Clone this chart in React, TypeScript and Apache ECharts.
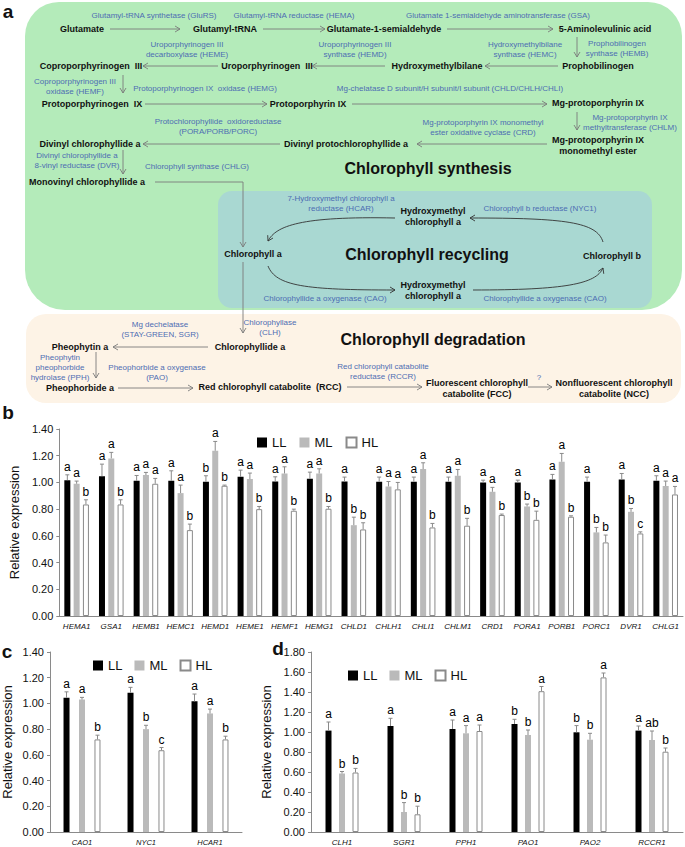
import React, { useEffect, useRef } from 'react';
import * as echarts from 'echarts';

// ---------- Panel b data ----------
const genesB = ['HEMA1', 'GSA1', 'HEMB1', 'HEMC1', 'HEMD1', 'HEME1', 'HEMF1', 'HEMG1', 'CHLD1', 'CHLH1', 'CHLI1', 'CHLM1', 'CRD1', 'PORA1', 'PORB1', 'PORC1', 'DVR1', 'CHLG1'];
const llB = [1.017, 1.047, 1.012, 1.012, 1.005, 1.042, 1.007, 1.027, 1.007, 1.005, 1.005, 1.005, 1.0, 1.0, 1.022, 1.005, 1.022, 1.012];
const mlB = [0.99, 1.18, 1.055, 0.92, 1.237, 1.025, 1.067, 1.067, 0.68, 0.97, 1.1, 1.05, 0.93, 0.82, 1.155, 0.626, 0.78, 0.973];
const hlB = [0.835, 0.835, 0.99, 0.643, 0.975, 0.8, 0.788, 0.803, 0.648, 0.948, 0.663, 0.676, 0.756, 0.72, 0.743, 0.551, 0.618, 0.91];
const llSdB = [0.04, 0.09, 0.04, 0.075, 0.045, 0.05, 0.035, 0.05, 0.033, 0.035, 0.035, 0.035, 0.017, 0.017, 0.038, 0.035, 0.045, 0.038];
const mlSdB = [0.02, 0.045, 0.02, 0.06, 0.07, 0.045, 0.05, 0.035, 0.06, 0.037, 0.047, 0.047, 0.033, 0.018, 0.062, 0.037, 0.025, 0.037];
const hlSdB = [0.035, 0.035, 0.04, 0.045, 0.005, 0.02, 0.012, 0.017, 0.05, 0.052, 0.03, 0.055, 0.007, 0.065, 0.007, 0.055, 0.012, 0.06];
const llSigB = ['a', 'a', 'a', 'a', 'b', 'a', 'a', 'a', 'a', 'a', 'a', 'a', 'a', 'a', 'a', 'a', 'a', 'a'];
const mlSigB = ['a', 'a', 'a', 'a', 'a', 'a', 'a', 'a', 'b', 'a', 'a', 'a', 'a', 'b', 'a', 'b', 'b', 'a'];
const hlSigB = ['b', 'b', 'a', 'b', 'b', 'b', 'b', 'b', 'b', 'a', 'b', 'b', 'b', 'b', 'b', 'b', 'c', 'a'];

// ---------- Panel c data ----------
const genesC = ['CAO1', 'NYC1', 'HCAR1'];
const llC = [1.044, 1.083, 1.016];
const mlC = [1.03, 0.8, 0.922];
const hlC = [0.72, 0.636, 0.72];
const llSdC = [0.046, 0.042, 0.057];
const mlSdC = [0.017, 0.03, 0.034];
const hlSdC = [0.033, 0.021, 0.025];
const llSigC = ['a', 'a', 'a'];
const mlSigC = ['a', 'b', 'a'];
const hlSigC = ['b', 'c', 'b'];

// ---------- Panel d data ----------
const genesD = ['CLH1', 'SGR1', 'PPH1', 'PAO1', 'PAO2', 'RCCR1'];
const llD = [1.014, 1.06, 1.03, 1.08, 0.997, 1.014];
const mlD = [0.585, 0.2, 0.987, 0.97, 0.923, 0.92];
const hlD = [0.595, 0.177, 1.01, 1.408, 1.546, 0.803];
const llSdD = [0.086, 0.077, 0.09, 0.047, 0.067, 0.046];
const mlSdD = [0.02, 0.094, 0.077, 0.05, 0.064, 0.09];
const hlSdD = [0.041, 0.081, 0.06, 0.047, 0.044, 0.037];
const llSigD = ['a', 'a', 'a', 'b', 'b', 'a'];
const mlSigD = ['b', 'b', 'a', 'b', 'b', 'ab'];
const hlSigD = ['b', 'b', 'a', 'a', 'a', 'b'];

const yTicksBC = [0, 1.4];
const yTicksD = [0, 1.8];
const legendNames = ['LL', 'ML', 'HL'];

const FF = '"Liberation Sans", Arial, Helvetica, sans-serif';
const BLUE = '#4d6db3';
const ARROW = '#7a7a7a';

function arrowHead(tx: number, ty: number, fx: number, fy: number) {
  const dx = tx - fx, dy = ty - fy;
  const len = Math.sqrt(dx * dx + dy * dy) || 1;
  const ux = dx / len, uy = dy / len;
  const px = -uy, py = ux;
  const L = 5, W = 3;
  return {
    type: 'polyline', silent: true,
    shape: { points: [[tx - L * ux + W * px, ty - L * uy + W * py], [tx, ty], [tx - L * ux - W * px, ty - L * uy - W * py]] },
    style: { stroke: ARROW, fill: null, lineWidth: 0.9 },
  };
}
function arrow(x1: number, y1: number, x2: number, y2: number) {
  return [
    { type: 'line', silent: true, shape: { x1, y1, x2, y2 }, style: { stroke: ARROW, lineWidth: 0.9 } },
    arrowHead(x2, y2, x1, y1),
  ];
}
function curve(x1: number, y1: number, c1x: number, c1y: number, c2x: number, c2y: number, x2: number, y2: number) {
  return [
    { type: 'bezierCurve', silent: true, shape: { x1, y1, cpx1: c1x, cpy1: c1y, cpx2: c2x, cpy2: c2y, x2, y2 }, style: { stroke: '#333', fill: null, lineWidth: 0.9 } },
    { ...arrowHead(x2, y2, c2x, c2y), style: { stroke: '#333', fill: null, lineWidth: 0.9 } },
  ];
}
function txt(s: string, x: number, y: number, kind: 'blue' | 'bold' | 'big' | 'panel') {
  const font = kind === 'blue' ? `8px ${FF}` : kind === 'bold' ? `bold 9px ${FF}` : kind === 'big' ? `bold 16px ${FF}` : `bold 19px ${FF}`;
  const lh = kind === 'blue' ? 10 : kind === 'bold' ? 11 : 20;
  return {
    type: 'text', silent: true, x, y,
    style: {
      text: s, font, fill: kind === 'blue' ? BLUE : '#111',
      textAlign: 'center', align: 'center', textVerticalAlign: 'middle', verticalAlign: 'middle', lineHeight: lh,
    },
  };
}

function buildGraphics() {
  const g: any[] = [];
  g.push({ type: 'rect', silent: true, shape: { x: 25, y: 2, width: 657, height: 308, r: [34, 34, 40, 40] }, style: { fill: '#b4ebba' } });
  g.push({ type: 'rect', silent: true, shape: { x: 218, y: 191, width: 434, height: 117, r: 14 }, style: { fill: '#a9d8d2' } });
  g.push({ type: 'rect', silent: true, shape: { x: 26, y: 314, width: 655, height: 89, r: 20 }, style: { fill: '#fdf3e6' } });

  // panel letters
  g.push(txt('a', 8, 11, 'panel'), txt('b', 8, 412, 'panel'), txt('c', 7, 651, 'panel'), txt('d', 278, 648, 'panel'));

  // big titles
  g.push(txt('Chlorophyll synthesis', 428, 168, 'big'));
  g.push(txt('Chlorophyll recycling', 427, 254, 'big'));
  g.push(txt('Chlorophyll degradation', 433, 339, 'big'));

  // blue enzyme labels
  const blues: [string, number, number][] = [
    ['Glutamyl-tRNA synthetase (GluRS)', 154, 15],
    ['Glutamyl-tRNA reductase (HEMA)', 294, 15],
    ['Glutamate 1-semialdehyde aminotransferase (GSA)', 498, 15],
    ['Prophobilinogen\nsynthase (HEMB)', 617, 48],
    ['Hydroxymethylbilane\nsynthase (HEMC)', 525, 49],
    ['Uroporphyrinogen III\nsynthase (HEMD)', 355, 49],
    ['Uroporphyrinogen III\ndecarboxylase (HEME)', 187, 49],
    ['Coproporphyrinogen III\noxidase (HEMF)', 75, 86],
    ['Protoporphyrinogen IX  oxidase (HEMG)', 205, 88],
    ['Mg-chelatase D subunit/H subunit/I subunit (CHLD/CHLH/CHLI)', 450, 88],
    ['Mg-protoporphyrin IX\nmethyltransferase (CHLM)', 630, 122],
    ['Mg-protoporphyrin IX monomethyl\nester oxidative cyclase (CRD)', 483, 127],
    ['Protochlorophyllide  oxidoreductase\n(PORA/PORB/PORC)', 218, 126],
    ['Divinyl chlorophyllide a\n8-vinyl reductase (DVR)', 77, 160],
    ['Chlorophyll synthase (CHLG)', 197, 166],
    ['7-Hydroxymethyl chlorophyll a\nreductase (HCAR)', 341, 203],
    ['Chlorophyll b reductase (NYC1)', 540, 208],
    ['Chlorophyllide a oxygenase (CAO)', 325, 298],
    ['Chlorophyllide a oxygenase (CAO)', 545, 298],
    ['Chlorophyllase\n(CLH)', 270, 327],
    ['Mg dechelatase\n(STAY-GREEN, SGR)', 160, 329],
    ['Pheophytin\npheophorbide\nhydrolase (PPH)', 60, 367],
    ['Pheophorbide a oxygenase\n(PAO)', 157, 372],
    ['Red chlorophyll catabolite\nreductase (RCCR)', 383, 371],
    ['?', 539, 377],
  ];
  blues.forEach(([s, x, y]) => g.push(txt(s, x, y, 'blue')));

  const bolds: [string, number, number][] = [
    ['Glutamate', 82, 29],
    ['Glutamyl-tRNA', 225, 29],
    ['Glutamate-1-semialdehyde', 384, 29],
    ['5-Aminolevulinic acid', 605, 29],
    ['Prophobilinogen', 598, 66],
    ['Hydroxymethylbilane', 437, 66],
    ['Uroporphyrinogen  III', 267, 66],
    ['Coproporphyrinogen  III', 91, 66],
    ['Protoporphyrinogen  IX', 92, 104],
    ['Protoporphyrin IX', 308, 104],
    ['Mg-protoporphyrin IX', 598, 103],
    ['Mg-protoporphyrin IX\nmonomethyl ester', 598, 145],
    ['Divinyl protochlorophyllide a', 346, 144],
    ['Divinyl chlorophyllide a', 90, 144],
    ['Monovinyl chlorophyllide a', 87, 182],
    ['Chlorophyll a', 253, 254],
    ['Hydroxymethyl\nchlorophyll a', 433, 216],
    ['Chlorophyll b', 612, 256],
    ['Hydroxymethyl\nchlorophyll a', 433, 290],
    ['Chlorophyllide a', 250, 347],
    ['Pheophytin a', 80, 347],
    ['Pheophorbide a', 80, 388],
    ['Red chlorophyll catabolite  (RCC)', 270, 387],
    ['Fluorescent chlorophyll\ncatabolite (FCC)', 477, 388],
    ['Nonfluorescent chlorophyll\ncatabolite (NCC)', 614, 388],
  ];
  bolds.forEach(([s, x, y]) => g.push(txt(s, x, y, 'bold')));

  // arrows
  const arr: [number, number, number, number][] = [
    [110, 29, 180, 29], [263, 29, 325, 29], [447, 29, 553, 29],
    [577, 37, 577, 57],
    [558, 66, 485, 66], [385, 66, 312, 66], [218, 66, 143, 66],
    [123, 75, 123, 93],
    [145, 104, 267, 104], [352, 104, 547, 104],
    [577, 112, 577, 130],
    [547, 144, 417, 144], [280, 144, 143, 144],
    [123, 150, 123, 174],
    [243, 262, 243, 333],
    [208, 347, 113, 347], [96, 352, 96, 378], [118, 388, 193, 388],
    [347, 387, 422, 387], [528, 387, 552, 387],
  ];
  arr.forEach(([a, b, c, d]) => g.push(...arrow(a, b, c, d)));
  g.push({ type: 'polyline', silent: true, shape: { points: [[155, 182], [243, 182], [243, 247]] }, style: { stroke: ARROW, fill: null, lineWidth: 0.9 } });
  g.push(arrowHead(243, 247, 243, 240));

  // recycling curves
  g.push(...curve(395, 218, 300, 216, 276, 226, 268, 241));
  g.push(...curve(603, 242, 597, 222, 565, 218, 470, 218));
  g.push(...curve(268, 266, 276, 286, 305, 290, 395, 290));
  g.push(...curve(473, 290, 565, 290, 596, 284, 603, 268));
  return g;
}

function errSeries(axis: number, vals: number[], sds: number[], sigs: string[], offset: number) {
  return {
    type: 'custom', xAxisIndex: axis, yAxisIndex: axis, z: 5, silent: true, clip: false,
    itemStyle: { color: '#000' },
    data: vals.map((v, i) => [i, v, v + sds[i]]),
    encode: { x: 0, y: 1 },
    renderItem: (params: any, api: any) => {
      const i = api.value(0), v = api.value(1), top = api.value(2);
      const p0 = api.coord([i, v]);
      const p1 = api.coord([i, top]);
      const x = p0[0] + offset;
      return {
        type: 'group',
        children: [
          { type: 'line', shape: { x1: x, y1: p0[1], x2: x, y2: p1[1] }, style: { stroke: '#8a8a8a', lineWidth: 1 } },
          { type: 'line', shape: { x1: x - 2, y1: p1[1], x2: x + 2, y2: p1[1] }, style: { stroke: '#8a8a8a', lineWidth: 1 } },
          { type: 'text', x, y: p1[1] - 2, style: { text: sigs[params.dataIndex], font: `12px ${FF}`, fill: '#000', textFill: '#000', textAlign: 'center', align: 'center', textVerticalAlign: 'bottom', verticalAlign: 'bottom' } },
        ],
      };
    },
  };
}

function barSeries(axis: number, ll: number[], ml: number[], hl: number[], gap: string) {
  const common = { type: 'bar', xAxisIndex: axis, yAxisIndex: axis, barWidth: 6, barGap: gap, silent: true };
  return [
    { ...common, name: 'LL', data: ll, itemStyle: { color: '#000' } },
    { ...common, name: 'ML', data: ml, itemStyle: { color: '#bababa' } },
    { ...common, name: 'HL', data: hl, itemStyle: { color: '#fff', borderColor: '#8a8a8a', borderWidth: 1 } },
  ];
}

function yAxis(grid: number, ticks: number[], nameGap: number) {
  return {
    type: 'value', gridIndex: grid, min: ticks[0], max: ticks[1], interval: 0.2,
    axisLine: { show: true, lineStyle: { color: '#8a8a8a', width: 1 } },
    axisTick: { show: true, length: 3, lineStyle: { color: '#8a8a8a' } },
    splitLine: { show: false },
    axisLabel: { formatter: (v: number) => v.toFixed(2), fontSize: 11, color: '#111', margin: 6, fontFamily: FF },
    name: 'Relative expression', nameLocation: 'middle', nameGap,
    nameTextStyle: { fontSize: 13, color: '#111', fontFamily: FF },
  };
}
function xAxis(grid: number, cats: string[], fs: number) {
  return {
    type: 'category', gridIndex: grid, data: cats,
    axisLine: { show: true, lineStyle: { color: '#8a8a8a', width: 1 } },
    axisTick: { show: false },
    axisLabel: { interval: 0, fontStyle: 'italic', fontSize: fs, color: '#111', margin: 6, fontFamily: FF },
  };
}
function legend(left: number, top: number, gap: number) {
  return {
    data: legendNames, left, top, icon: 'rect', itemWidth: 10, itemHeight: 10, itemGap: gap, itemTextGap: 4,
    selectedMode: false, textStyle: { fontSize: 13, color: '#111', fontFamily: FF },
  };
}

export default function App() {
  const ref = useRef<HTMLDivElement>(null);
  useEffect(() => {
    if (!ref.current) return;
    const chart = echarts.init(ref.current, undefined, { renderer: 'svg' });
    const offB = 9.3, offC = 15.5, offD = 13.5;
    chart.setOption({
      animation: false,
      backgroundColor: '#fff',
      grid: [
        { left: 46, right: 2, top: 429, bottom: 231 },
        { left: 46, width: 196, top: 652, bottom: 15 },
        { left: 311, right: 2, top: 652, bottom: 15 },
      ],
      xAxis: [xAxis(0, genesB, 8), xAxis(1, genesC, 7.5), xAxis(2, genesD, 8)],
      yAxis: [yAxis(0, yTicksBC, 34), yAxis(1, yTicksBC, 36), yAxis(2, yTicksD, 34)],
      legend: [legend(252, 431, 13), legend(88, 654, 12), legend(343, 664, 12)],
      graphic: { elements: buildGraphics() },
      series: [
        ...barSeries(0, llB, mlB, hlB, '55%'),
        errSeries(0, llB, llSdB, llSigB, -offB), errSeries(0, mlB, mlSdB, mlSigB, 0), errSeries(0, hlB, hlSdB, hlSigB, offB),
        ...barSeries(1, llC, mlC, hlC, '158%'),
        errSeries(1, llC, llSdC, llSigC, -offC), errSeries(1, mlC, mlSdC, mlSigC, 0), errSeries(1, hlC, hlSdC, hlSigC, offC),
        ...barSeries(2, llD, mlD, hlD, '125%'),
        errSeries(2, llD, llSdD, llSigD, -offD), errSeries(2, mlD, mlSdD, mlSigD, 0), errSeries(2, hlD, hlSdD, hlSigD, offD),
      ],
    });
    return () => chart.dispose();
  }, []);
  return <div ref={ref} style={{ position: 'absolute', left: 0, top: 0, width: 685, height: 847 }} />;
}
